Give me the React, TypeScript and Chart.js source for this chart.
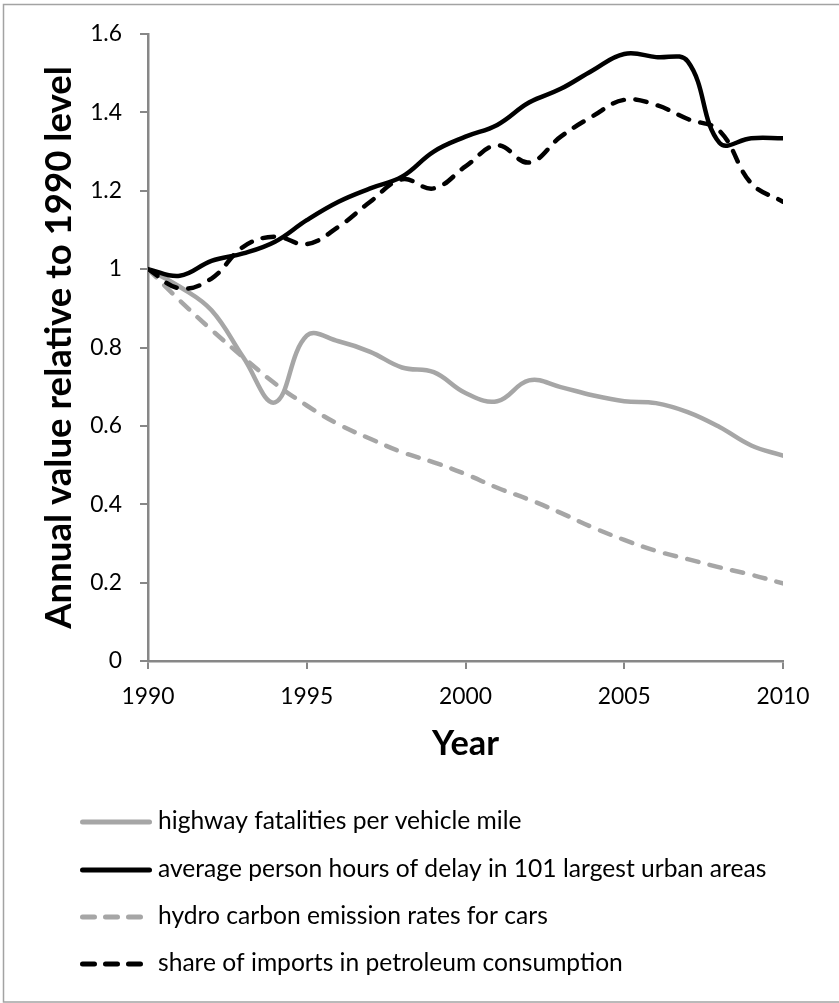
import React, { useEffect, useRef } from "react";
import { Chart, registerables } from "chart.js";

Chart.register(...registerables);

const years = [1990, 1991, 1992, 1993, 1994, 1995, 1996, 1997, 1998, 1999, 2000, 2001, 2002, 2003, 2004, 2005, 2006, 2007, 2008, 2009, 2010];

const highwayFatalities = [1.0, 0.955, 0.895, 0.775, 0.66, 0.83, 0.816, 0.789, 0.749, 0.737, 0.684, 0.663, 0.716, 0.699, 0.678, 0.663, 0.658, 0.635, 0.597, 0.55, 0.524];
const delayHours = [1.0, 0.983, 1.021, 1.04, 1.07, 1.125, 1.172, 1.206, 1.236, 1.3, 1.338, 1.368, 1.425, 1.46, 1.507, 1.549, 1.541, 1.53, 1.322, 1.334, 1.334];
const hydrocarbonEmissions = [1.0, 0.92, 0.845, 0.775, 0.708, 0.652, 0.604, 0.567, 0.533, 0.507, 0.477, 0.442, 0.412, 0.378, 0.341, 0.309, 0.281, 0.26, 0.239, 0.22, 0.198];
const importsShare = [1.0, 0.951, 0.976, 1.057, 1.083, 1.064, 1.108, 1.172, 1.229, 1.206, 1.262, 1.316, 1.272, 1.338, 1.39, 1.432, 1.419, 1.383, 1.353, 1.219, 1.172];

const seriesLabels = [
  "highway fatalities per vehicle mile",
  "average person hours of delay in 101 largest urban areas",
  "hydro carbon emission rates for cars",
  "share of imports in petroleum consumption",
];

const yTicks = [0, 0.2, 0.4, 0.6, 0.8, 1, 1.2, 1.4, 1.6];
const xTicks = [1990, 1995, 2000, 2005, 2010];
const yTitle = "Annual value relative to 1990 level";
const xTitle = "Year";

const FONT = "Lato";
const GRAY = "#a6a6a6";
const AXIS = "#878787";
const BORDER = "#a3a3a3";

const W = 839;
const H = 1003;
const X_AXIS_H = 110;

function fitSize(text: string, weight: string, target: number) {
  const c = document.createElement("canvas").getContext("2d") as CanvasRenderingContext2D;
  c.font = `${weight} 100px ${FONT}`;
  return (100 * target) / c.measureText(text).width;
}

function makeLegendPlugin(size: number) {
  return {
    id: "customLegend",
    afterDraw(chart: any) {
      const ctx = chart.ctx;
      ctx.save();
      ctx.strokeStyle = BORDER;
      ctx.lineWidth = 1.5;
      ctx.setLineDash([]);
      ctx.strokeRect(3.5, 4.5, 840, 997.5);
      const rowsY = [822, 870, 917, 964];
      chart.data.datasets.forEach((ds: any, i: number) => {
        const y = rowsY[i];
        ctx.beginPath();
        ctx.lineCap = "round";
        ctx.lineWidth = 5;
        ctx.strokeStyle = ds.borderColor;
        ctx.setLineDash(ds.borderDash && ds.borderDash.length ? [12, 11] : []);
        ctx.moveTo(82.5, y);
        ctx.lineTo(149.5, y);
        ctx.stroke();
        ctx.setLineDash([]);
        ctx.fillStyle = "#000";
        ctx.font = `${size}px ${FONT}`;
        ctx.textBaseline = "middle";
        ctx.textAlign = "left";
        ctx.fillText(ds.label, 158, y - 1);
      });
      ctx.restore();
    },
  };
}

function toPoints(vals: number[]) {
  return years.map((x, i) => ({ x, y: vals[i] }));
}

export default function App() {
  const ref = useRef<HTMLCanvasElement | null>(null);
  useEffect(() => {
    if (!ref.current) return;
    const tickSize = fitSize("1990", "normal", 53);
    const yTitleSize = fitSize(yTitle, "bold", 563);
    const xTitleSize = fitSize(xTitle, "bold", 67);
    const legendSize = fitSize(seriesLabels[0] + seriesLabels[1] + seriesLabels[2], "normal", 361 + 610 + 391);

    const common = { pointRadius: 0, borderWidth: 4.5, tension: 0.4, borderCapStyle: "round", borderJoinStyle: "round", fill: false };
    const chart = new Chart(ref.current, {
      type: "line",
      data: {
        datasets: [
          { ...common, label: seriesLabels[0], data: toPoints(highwayFatalities), borderColor: GRAY, order: 4 },
          { ...common, label: seriesLabels[1], data: toPoints(delayHours), borderColor: "#000000", order: 3 },
          { ...common, label: seriesLabels[2], data: toPoints(hydrocarbonEmissions), borderColor: GRAY, borderDash: [11.5, 11.5], order: 2 },
          { ...common, label: seriesLabels[3], data: toPoints(importsShare), borderColor: "#000000", borderDash: [11.5, 11.5], order: 1 },
        ] as any,
      },
      options: {
        animation: false,
        responsive: false,
        maintainAspectRatio: false,
        layout: { padding: { left: 0, right: 56, top: 34, bottom: H - 661 - X_AXIS_H } },
        plugins: { legend: { display: false }, tooltip: { enabled: false } },
        scales: {
          x: {
            type: "linear",
            min: 1990,
            max: 2010,
            afterBuildTicks: (s: any) => { s.ticks = xTicks.map((v) => ({ value: v })); },
            afterFit: (s: any) => { s.height = X_AXIS_H; },
            ticks: { color: "#000", font: { family: FONT, size: tickSize }, padding: Math.max(0, 28 - 0.6 * tickSize), maxRotation: 0, autoSkip: false, callback: (v: any) => String(v) },
            grid: { display: true, drawOnChartArea: false, drawTicks: true, tickLength: 8, color: AXIS, lineWidth: 2 },
            border: { display: true, color: AXIS, width: 2.5 },
            title: { display: true, text: xTitle, color: "#000", font: { family: FONT, size: xTitleSize, weight: "bold" }, padding: { top: 0, bottom: Math.max(0, 771 - 744 - 0.6 * xTitleSize) } },
          },
          y: {
            type: "linear",
            min: 0,
            max: 1.6,
            afterBuildTicks: (s: any) => { s.ticks = yTicks.map((v) => ({ value: v })); },
            afterFit: (s: any) => { s.width = 148; },
            ticks: { color: "#000", font: { family: FONT, size: tickSize }, padding: 18, callback: (v: any) => String(Math.round(Number(v) * 10) / 10) },
            grid: { display: true, drawOnChartArea: false, drawTicks: true, tickLength: 8, color: AXIS, lineWidth: 2 },
            border: { display: true, color: AXIS, width: 2.5 },
            title: { display: true, text: yTitle, color: "#000", font: { family: FONT, size: yTitleSize, weight: "bold" }, padding: { top: Math.max(0, 73 - 0.987 * yTitleSize), bottom: 0 } },
          },
        },
      } as any,
      plugins: [makeLegendPlugin(legendSize)],
    });
    return () => chart.destroy();
  }, []);
  return (
    <div style={{ position: "absolute", left: 0, top: 0, width: W, height: H, background: "#fff" }}>
      <canvas ref={ref} width={W} height={H} style={{ width: W, height: H, display: "block" }} />
    </div>
  );
}
